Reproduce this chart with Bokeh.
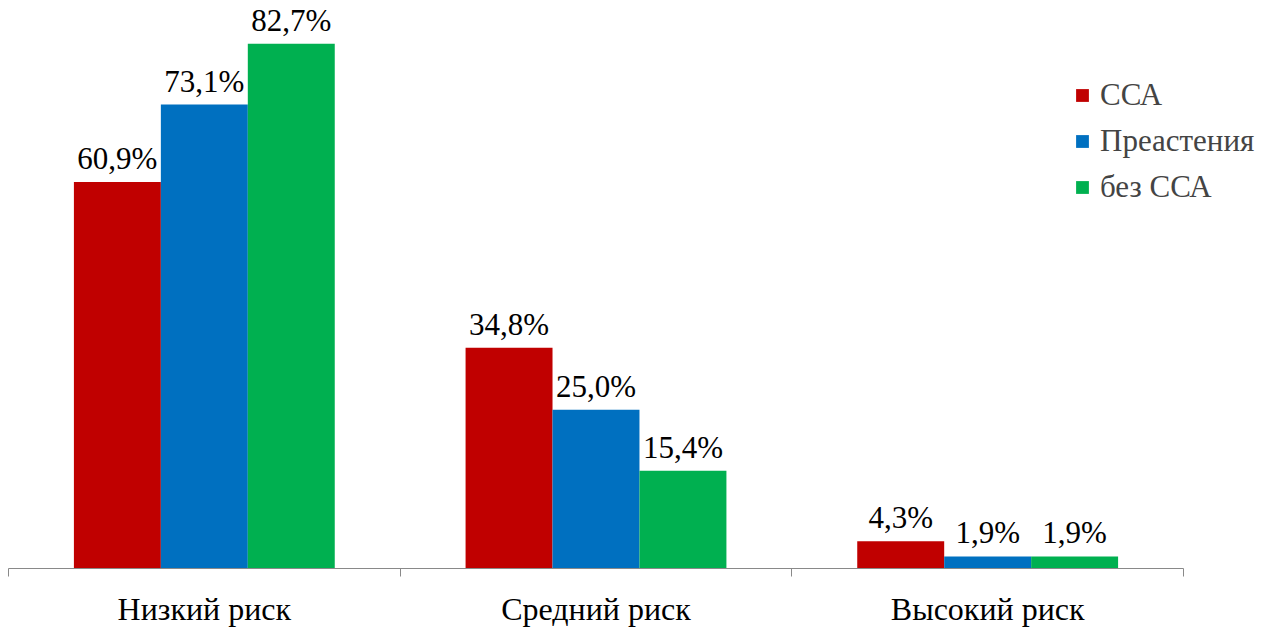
from bokeh.plotting import figure
from bokeh.models import ColumnDataSource, FixedTicker, Legend, LegendItem, Range1d
from bokeh.core.properties import value
from bokeh.embed import file_html
from bokeh.resources import INLINE

categories = ["Низкий риск", "Средний риск", "Высокий риск"]
series_names = ["ССА", "Преастения", "без ССА"]
ssa = [60.9, 34.8, 4.3]
preastenia = [73.1, 25.0, 1.9]
bez_ssa = [82.7, 15.4, 1.9]

colors = ["#C00000", "#0070C0", "#00B050"]
FONT = "Liberation Serif"
bar_w = 0.222
offsets = [-bar_w, 0.0, bar_w]

# frame spans the full width; the axis itself stops at the last category edge
p = figure(width=1273, height=630, output_backend="svg", toolbar_location=None,
           x_range=Range1d(0, 3.2298), y_range=Range1d(0, 89.5),
           min_border_left=8, min_border_right=0, min_border_top=0, min_border_bottom=62)
p.outline_line_color = None
p.xgrid.visible = False
p.ygrid.visible = False
p.yaxis.visible = False
p.background_fill_color = "white"

renderers = []
for vals, name, color, off in zip([ssa, preastenia, bez_ssa], series_names, colors, offsets):
    xs = [i + 0.5 + off for i in range(len(categories))]
    src = ColumnDataSource(dict(x=xs, top=vals,
                                label=[f"{v:.1f}%".replace(".", ",") for v in vals]))
    r = p.vbar(x="x", top="top", bottom=0, width=bar_w, source=src,
               fill_color=color, line_color=None)
    p.text(x="x", y="top", text="label", source=src, text_align="center",
           text_baseline="bottom", y_offset=-6, text_font=value(FONT),
           text_font_size="31px", text_color="black")
    renderers.append((name, r))

ax = p.xaxis[0]
ax.bounds = (0, 3)
ax.ticker = FixedTicker(ticks=[0.5, 1.5, 2.5], minor_ticks=[0, 1, 2, 3])
ax.major_label_overrides = {0.5: categories[0], 1.5: categories[1], 2.5: categories[2]}
ax.major_tick_in = 0
ax.major_tick_out = 0
ax.minor_tick_in = 0
ax.minor_tick_out = 8
ax.axis_line_color = "#898989"
ax.minor_tick_line_color = "#898989"
ax.major_label_text_font = FONT
ax.major_label_text_font_size = "32px"
ax.major_label_text_color = "black"
ax.major_label_standoff = 14

legend = Legend(items=[LegendItem(label=n, renderers=[r]) for n, r in renderers],
                location=(1066, 358), glyph_width=16, glyph_height=16,
                label_standoff=10, label_height=46, spacing=0, padding=0, margin=0,
                label_text_font=FONT, label_text_font_size="31px",
                border_line_color=None, background_fill_alpha=0)
p.add_layout(legend, "center")

open("out.html", "w").write(file_html(p, INLINE))
